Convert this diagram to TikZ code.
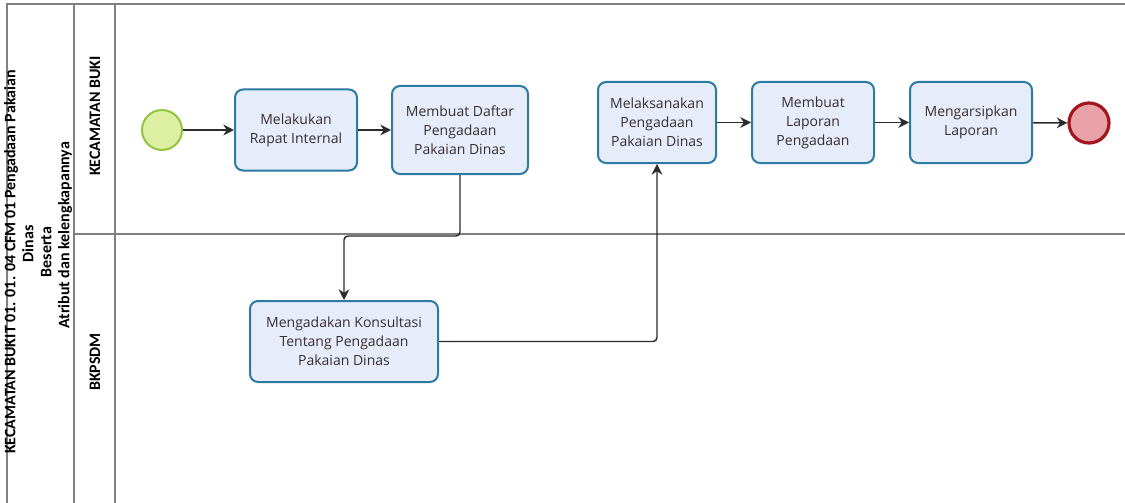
\documentclass[tikz,border=0pt]{standalone}
\usepackage{fontspec}
\setmainfont{Open Sans}
\newfontfamily\titlefont{Carlito}
\usetikzlibrary{arrows.meta}
\definecolor{taskfill}{HTML}{E6ECF9}
\definecolor{taskdraw}{HTML}{2B7BA3}
\definecolor{taskText}{HTML}{3A2E2E}
\definecolor{startfill}{HTML}{DCEFA2}
\definecolor{startdraw}{HTML}{93C542}
\definecolor{endfill}{HTML}{E9A3A8}
\definecolor{enddraw}{HTML}{A3161E}
\definecolor{poolline}{HTML}{808080}
\definecolor{flowline}{HTML}{2B2B2B}
\tikzset{
  task/.style={draw=taskdraw, fill=taskfill, line width=1.5pt, rounded corners=6pt,
    text=taskText, align=center, inner sep=2pt,
    font=\fontsize{10.5}{14.25}\selectfont},
  startev/.style={circle, draw=startdraw, fill=startfill, line width=1.5pt, minimum size=30pt, inner sep=0pt},
  endev/.style={circle, draw=enddraw, fill=endfill, line width=2.4pt, minimum size=30pt, inner sep=0pt},
  pool/.style={draw=poolline, line width=1.1pt},
  flow/.style={draw=flowline, line width=1.1pt, rounded corners=3pt, -{Stealth[length=8pt,width=8pt]}},
  lanelabel/.style={rotate=90, font=\titlefont\bfseries\fontsize{12}{14}\selectfont, align=center},
}
\begin{document}
\begin{tikzpicture}[x=0.75pt,y=-0.75pt]
\useasboundingbox (0,0) rectangle (1125,503);
% pool and lanes
\draw[pool] (1125,4) -- (7,4) -- (7,503);
\draw[pool] (74,4) -- (74,503);
\draw[pool] (115,4) -- (115,503);
\draw[pool] (74,234) -- (1125,234);
% titles
\node[lanelabel, font=\titlefont\bfseries\fontsize{12}{13.5}\selectfont] (pooltitle) at (38,262)
  {KECAMATAN BUKIT 01. 01. 04 CFM 01 Pengadaan Pakaian\\\hspace*{27pt}Dinas\\\hspace*{15pt}Beserta\\\hspace*{40pt}Atribut dan kelengkapannya};
\node[lanelabel] (lane1) at (95,116) {KECAMATAN BUKI};
\node[lanelabel] (lane2) at (95,362) {BKPSDM};
% events and tasks
\node[startev] (start) at (162,130) {};
\node[task, minimum width=91.5pt, minimum height=60.75pt] (t1) at (296,130) {Melakukan\\Rapat Internal};
\node[task, minimum width=102pt, minimum height=66pt] (t2) at (460,130) {Membuat Daftar\\Pengadaan\\Pakaian Dinas};
\node[task, minimum width=88.5pt, minimum height=60.75pt] (t3) at (657,122.5) {Melaksanakan\\Pengadaan\\Pakaian Dinas};
\node[task, minimum width=91.5pt, minimum height=60.75pt] (t4) at (813,122.5) {Membuat\\Laporan\\Pengadaan};
\node[task, minimum width=91.5pt, minimum height=60.75pt] (t5) at (971,122.5) {Mengarsipkan\\Laporan};
\node[endev] (end) at (1089,123) {};
\node[task, minimum width=141pt, minimum height=60.75pt] (t6) at (344,341.5) {Mengadakan Konsultasi\\Tentang Pengadaan\\Pakaian Dinas};
% flows
\coordinate (j1) at (460,236);
\draw[flow] (start) -- (t1);
\draw[flow] (t1) -- (t2);
\draw[flow] (t2.south) -- (j1) -| (t6.north);
\draw[flow] (t6.east) -| (t3.south);
\draw[flow] (t3) -- (t4);
\draw[flow] (t4) -- (t5);
\draw[flow] (t5) -- (end);
\end{tikzpicture}
\end{document}
